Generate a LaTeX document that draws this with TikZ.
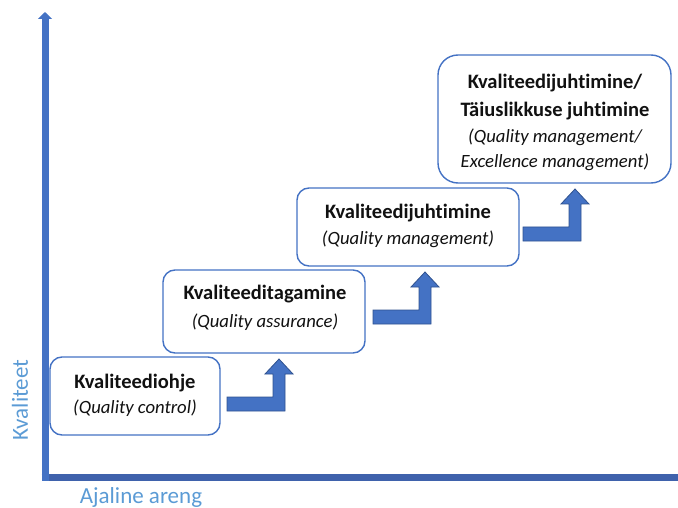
\documentclass[tikz,border=0pt]{standalone}
\usepackage{fontspec}
\setmainfont[Ligatures=CommonOff]{Carlito}
\usetikzlibrary{arrows.meta}
\definecolor{axblue}{HTML}{4472C4}
\definecolor{axdark}{HTML}{3F62AC}
\definecolor{lblue}{HTML}{5B9BD5}
\definecolor{arrborder}{HTML}{2F528F}
\definecolor{txt}{HTML}{111111}
\tikzset{
  stagebox/.style={draw=axblue, line width=1.4pt, rounded corners=12pt, fill=white, inner sep=0pt, outer sep=0pt},
  titletext/.style={font=\fontsize{20.5}{24}\selectfont\bfseries, text=txt, inner sep=0pt},
  subtext/.style={font=\fontsize{18.7}{22}\selectfont\itshape, text=txt, inner sep=0pt},
  axislabel/.style={font=\fontsize{23}{27}\selectfont, text=lblue, inner sep=0pt},
  stepshape/.style={fill=axblue, draw=arrborder, line width=0.8pt, line join=miter},
  pics/uparrow/.style={code={
    \path[stepshape] (0,0) -- (0,-14) -- (46,-14) -- (46,-37) -- (38,-37) -- (52,-52)
      -- (66,-37) -- (58,-37) -- (58,0) -- cycle;
  }}
}
\begin{document}
\begin{tikzpicture}[x=1pt,y=-1pt]
\useasboundingbox (0,0) rectangle (678,508);
% axes
\coordinate (origin) at (45,477);
\coordinate (ytop) at (45,12);
\coordinate (xend) at (678,477);
\draw[axdark, line width=7pt] (41.5,477) -- (xend);
\draw[axblue, line width=7pt, -{Triangle[width=14pt,length=7pt]}] (45,480.5) -- (ytop);
\node[axislabel, rotate=90] (ylab) at (20,400) {Kvaliteet};
\node[axislabel] (xlab) at (141,497) {Ajaline areng};

% boxes
\node[stagebox, minimum width=170pt, minimum height=78pt] (b1) at (135,396) {};
\node[stagebox, minimum width=202pt, minimum height=83pt] (b2) at (264,311.5) {};
\node[stagebox, minimum width=222pt, minimum height=78pt] (b3) at (408,227) {};
\node[stagebox, rounded corners=20pt, minimum width=233pt, minimum height=128pt] (b4) at (554.5,119) {};

\node[titletext] (t1) at (135,383) {Kvaliteediohje};
\node[subtext] (s1) at (135,408) {(Quality control)};
\node[titletext] (t2) at (265,294) {Kvaliteeditagamine};
\node[subtext] (s2) at (265,322) {(Quality assurance)};
\node[titletext] (t3) at (408,213) {Kvaliteedijuhtimine};
\node[subtext] (s3) at (408,239) {(Quality management)};
\node[titletext] (t4a) at (555,83) {Kvaliteedijuhtimine/};
\node[titletext] (t4b) at (555,111) {Täiuslikkuse juhtimine};
\node[subtext] (s4a) at (555,137) {(Quality management/};
\node[subtext] (s4b) at (555,162) {Excellence management)};

% step arrows
\pic at (227,411) {uparrow};
\pic at (373,324) {uparrow};
\pic at (523,241) {uparrow};
\end{tikzpicture}
\end{document}
